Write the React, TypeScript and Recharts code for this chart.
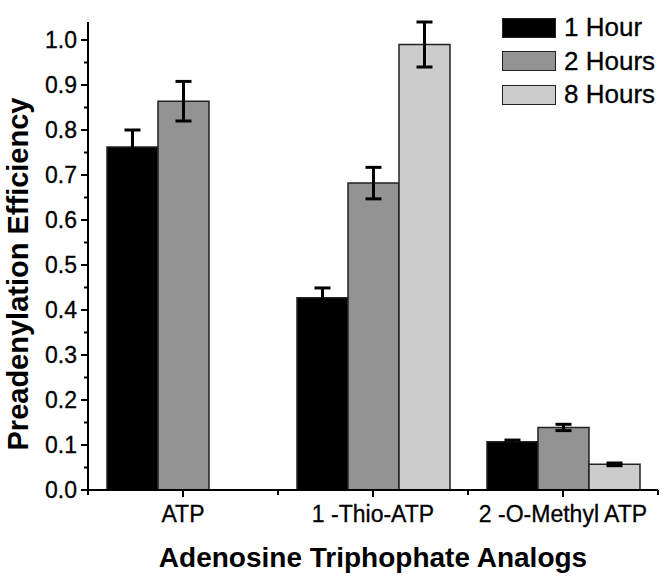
import { BarChart, Bar, XAxis, YAxis, ErrorBar, Legend, Label } from 'recharts';

const CATEGORIES = ['ATP', '1 -Thio-ATP', '2 -O-Methyl ATP'];
const HOUR_1 = [0.762, 0.427, 0.107];
const HOUR_1_ERR = [0.038, 0.022, 0.004];
const HOUR_2 = [0.864, 0.682, 0.139];
const HOUR_2_ERR = [0.044, 0.035, 0.007];
const HOUR_8 = [null, 0.99, 0.057];
const HOUR_8_ERR = [null, 0.05, 0.003];

const Y_MAJOR = [0, 0.1, 0.2, 0.3, 0.4, 0.5, 0.6, 0.7, 0.8, 0.9, 1.0];
const Y_MINOR = [0.05, 0.15, 0.25, 0.35, 0.45, 0.55, 0.65, 0.75, 0.85, 0.95];

const SERIES = [
  { key: 'h1', name: '1 Hour', color: '#000000' },
  { key: 'h2', name: '2 Hours', color: '#939393' },
  { key: 'h8', name: '8 Hours', color: '#cccccc' },
];

const data = CATEGORIES.map((name, i) => ({
  name,
  h1: HOUR_1[i],
  h1e: HOUR_1_ERR[i],
  h2: HOUR_2[i],
  h2e: HOUR_2_ERR[i],
  h8: HOUR_8[i],
  h8e: HOUR_8_ERR[i],
}));

const FONT = '"Liberation Sans", Arial, sans-serif';

const YTick = (props: any) => {
  const { x, y, payload } = props;
  const major = Y_MAJOR.some((v) => Math.abs(v - payload.value) < 1e-6);
  return (
    <g>
      <line x1={x} x2={x - (major ? 7 : 4)} y1={y} y2={y} stroke="#000" strokeWidth={2} />
      {major && (
        <text x={x - 11} y={y} dy="0.36em" textAnchor="end" fontSize={23} fontFamily={FONT} fill="#000" stroke="#000" strokeWidth={0.3}>
          {payload.value.toFixed(1)}
        </text>
      )}
    </g>
  );
};

const XTick = (props: any) => {
  const { x, y, payload, width } = props;
  const half = (width ?? 570) / CATEGORIES.length / 2;
  return (
    <g>
      <line x1={x} x2={x} y1={y} y2={y + 7} stroke="#000" strokeWidth={2} />
      <line x1={x - half} x2={x - half} y1={y} y2={y + 5} stroke="#000" strokeWidth={2} />
      <line x1={x + half} x2={x + half} y1={y} y2={y + 5} stroke="#000" strokeWidth={2} />
      <text x={x} y={y + 32} textAnchor="middle" fontSize={23} fontFamily={FONT} fill="#000" stroke="#000" strokeWidth={0.3}>
        {payload.value}
      </text>
    </g>
  );
};

const renderLegend = () => (
  <div style={{ fontFamily: FONT }}>
    {SERIES.map((s) => (
      <div key={s.key} style={{ display: 'flex', alignItems: 'center', height: 33.5 }}>
        <span
          style={{
            display: 'inline-block',
            width: 52,
            height: 18,
            background: s.color,
            border: '1.5px solid #222',
          }}
        />
        <span style={{ marginLeft: 8, fontSize: 26, color: '#000', WebkitTextStroke: '0.3px #000' }}>{s.name}</span>
      </div>
    ))}
  </div>
);

export default function App() {
  return (
    <div style={{ position: 'absolute', left: 0, top: 0, background: '#fff' }}>
      <BarChart
        width={664}
        height={576}
        data={data}
        margin={{ top: 22, right: 6, left: 0, bottom: 0 }}
        barCategoryGap="10%"
        barGap={0}
      >
        <XAxis
          dataKey="name"
          height={86}
          tickSize={0}
          tickMargin={0}
          tickLine={false}
          axisLine={{ stroke: '#000', strokeWidth: 2 }}
          tick={<XTick />}
          interval={0}
        >
          <Label
            value="Adenosine Triphophate Analogs"
            position="insideBottom"
            offset={9}
            style={{ fontSize: 28, fontWeight: 'bold', fontFamily: FONT, fill: '#000' }}
          />
        </XAxis>
        <YAxis
          width={88}
          domain={[0, 1]}
          ticks={[...Y_MAJOR, ...Y_MINOR].sort((a, b) => a - b)}
          tickSize={0}
          tickMargin={0}
          tickLine={false}
          axisLine={{ stroke: '#000', strokeWidth: 2 }}
          tick={<YTick />}
          interval={0}
        >
          <Label
            content={() => (
              <text
                transform="translate(28, 274) rotate(-90)"
                textAnchor="middle"
                fontSize={29}
                fontWeight="bold"
                fontFamily={FONT}
                fill="#000"
              >
                Preadenylation Efficiency
              </text>
            )}
          />
        </YAxis>
        <Legend
          layout="vertical"
          align="center"
          verticalAlign="middle"
          content={renderLegend}
          wrapperStyle={{ left: 502, top: 11, width: 160 }}
        />
        {SERIES.map((s) => (
          <Bar
            key={s.key}
            dataKey={s.key}
            name={s.name}
            fill={s.color}
            stroke="#222"
            strokeWidth={1.5}
            isAnimationActive={false}
          >
            <ErrorBar dataKey={`${s.key}e`} width={8} strokeWidth={3} stroke="#000" direction="y" />
          </Bar>
        ))}
      </BarChart>
    </div>
  );
}
